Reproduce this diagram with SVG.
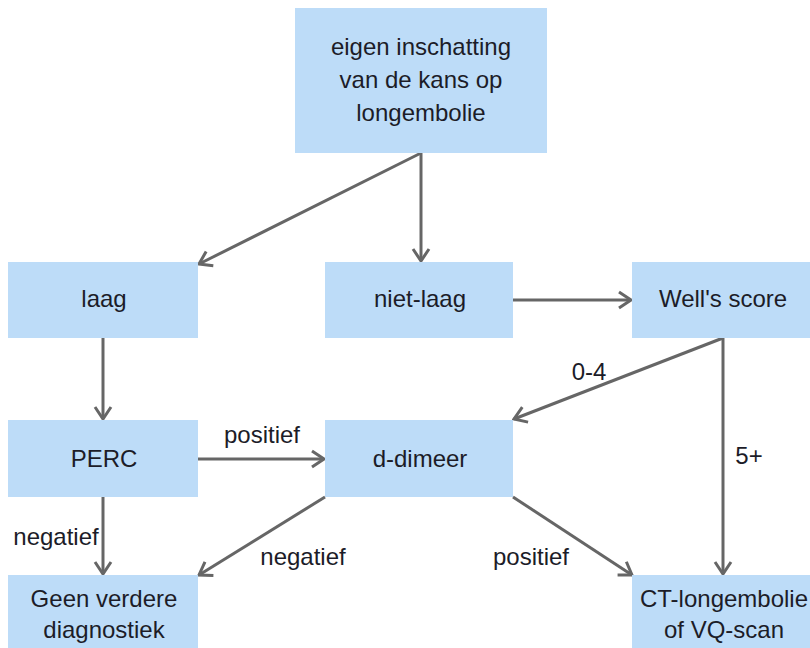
<svg xmlns="http://www.w3.org/2000/svg" width="810" height="648" viewBox="0 0 810 648">
<defs>
<marker id="ah" markerWidth="16" markerHeight="20" refX="14" refY="10" orient="auto" markerUnits="userSpaceOnUse">
<path d="M2,2 L14,10 L2,18" fill="none" stroke="#666666" stroke-width="3"/>
</marker>
<style>
.box{fill:#bddcf8;}
.t{font-family:"Liberation Sans",Arial,sans-serif;font-size:24px;fill:#1c1c28;text-anchor:middle;}
.c{stroke:#666666;stroke-width:3;fill:none;marker-end:url(#ah);}
</style>
</defs>
<rect width="810" height="648" fill="#ffffff"/>
<g id="connectors">
<line class="c" x1="421" y1="153" x2="199" y2="264"/>
<line class="c" x1="421" y1="153" x2="421" y2="261"/>
<line class="c" x1="513" y1="300" x2="631" y2="300"/>
<line class="c" x1="103" y1="338" x2="103" y2="419"/>
<line class="c" x1="198" y1="459" x2="324" y2="459"/>
<line class="c" x1="723" y1="338" x2="514" y2="419"/>
<line class="c" x1="723" y1="338" x2="723" y2="574"/>
<line class="c" x1="103" y1="497" x2="103" y2="574"/>
<line class="c" x1="325" y1="497" x2="199" y2="575"/>
<line class="c" x1="513" y1="497" x2="632" y2="575"/>
<text class="t" x="589" y="380">0-4</text>
<text class="t" x="749" y="464">5+</text>
<text class="t" x="262" y="443">positief</text>
<text class="t" x="56" y="545">negatief</text>
<text class="t" x="303" y="565">negatief</text>
<text class="t" x="531" y="565">positief</text>
</g>
<g id="n-top">
<rect class="box" x="295" y="8" width="252" height="145"/>
<text class="t" x="421" y="55">eigen inschatting</text>
<text class="t" x="421" y="88">van de kans op</text>
<text class="t" x="421" y="121">longembolie</text>
</g>
<g id="n-laag">
<rect class="box" x="8" y="262" width="190" height="76"/>
<text class="t" x="104" y="307">laag</text>
</g>
<g id="n-nietlaag">
<rect class="box" x="325" y="262" width="188" height="76"/>
<text class="t" x="420" y="307">niet-laag</text>
</g>
<g id="n-wells">
<rect class="box" x="632" y="262" width="178" height="76"/>
<text class="t" x="723" y="307">Well's score</text>
</g>
<g id="n-perc">
<rect class="box" x="8" y="420" width="190" height="77"/>
<text class="t" x="104" y="467">PERC</text>
</g>
<g id="n-ddimeer">
<rect class="box" x="325" y="420" width="188" height="77"/>
<text class="t" x="420" y="467">d-dimeer</text>
</g>
<g id="n-geen">
<rect class="box" x="8" y="575" width="190" height="73"/>
<text class="t" x="104" y="607">Geen verdere</text>
<text class="t" x="104" y="638">diagnostiek</text>
</g>
<g id="n-ct">
<rect class="box" x="632" y="575" width="178" height="73"/>
<text class="t" x="724" y="607">CT-longembolie</text>
<text class="t" x="724" y="638">of VQ-scan</text>
</g>
</svg>
